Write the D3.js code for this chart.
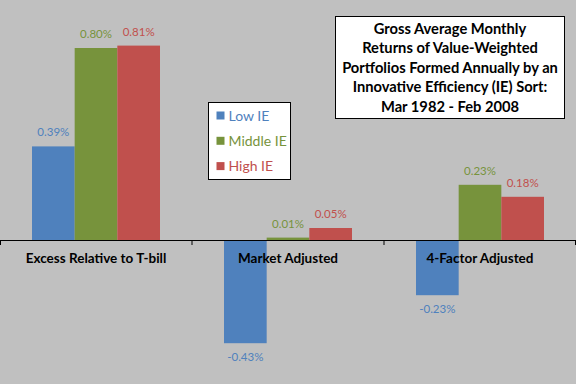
<!DOCTYPE html>
<html>
<head>
<meta charset="utf-8">
<script src="https://cdn.jsdelivr.net/npm/d3@7"></script>
<style>
  body { margin: 0; background: #c0c0c0; }
  svg { display: block; font-family: Lato, "Open Sans", sans-serif; }
</style>
</head>
<body>
<script>
var categories = ["Excess Relative to T-bill", "Market Adjusted", "4-Factor Adjusted"],
	series = ["Low IE", "Middle IE", "High IE"],
	lowIE = [0.39, -0.43, -0.23],
	middleIE = [0.80, 0.01, 0.23],
	highIE = [0.81, 0.05, 0.18],
	colors = ["#4f81bd", "#77933c", "#c0504d"],
	titleLines = ["Gross Average Monthly", "Returns of Value-Weighted",
		"Portfolios Formed Annually by an", "Innovative Efficiency (IE) Sort:",
		"Mar 1982 - Feb 2008"];

var width = 576, height = 384;
var values = [lowIE, middleIE, highIE];

var svg = d3.select('body').append('svg')
	.attr('width', width)
	.attr('height', height);

svg.append('rect')
	.attr('width', width).attr('height', height)
	.attr('fill', '#c0c0c0');

// scales
var x0 = d3.scaleBand()
	.domain(categories)
	.range([0, width]);

var x1 = d3.scaleBand()
	.domain(series)
	.range([0, x0.bandwidth()])
	.paddingOuter(0.75);

var y = d3.scaleLinear()
	.domain([-0.5, 1])
	.range([360, 0]);

// bars
var groups = svg.selectAll('g.cat')
	.data(categories)
	.enter().append('g')
	.attr('class', 'cat')
	.attr('transform', function(d) { return 'translate(' + x0(d) + ',0)'; });

series.forEach(function(s, si) {
	groups.append('rect')
		.attr('x', x1(s))
		.attr('width', x1.bandwidth())
		.attr('y', function(d, i) { return y(Math.max(0, values[si][i])); })
		.attr('height', function(d, i) { return Math.abs(y(values[si][i]) - y(0)); })
		.attr('fill', colors[si]);

	groups.append('text')
		.attr('x', x1(s) + x1.bandwidth() / 2)
		.attr('y', function(d, i) {
			var v = values[si][i];
			return v >= 0 ? y(v) - 10 : y(v) + 18;
		})
		.attr('text-anchor', 'middle')
		.attr('font-size', 11.5)
		.attr('fill', colors[si])
		.text(function(d, i) { return values[si][i].toFixed(2) + '%'; });
});

// x axis at zero
var xAxis = d3.axisBottom(x0)
	.tickSize(0)
	.tickFormat('');

var axisG = svg.append('g')
	.attr('transform', 'translate(0,' + y(0) + ')')
	.call(xAxis);
axisG.select('.domain').attr('stroke', '#000').attr('stroke-width', 1.2);

// category separators
axisG.selectAll('line.sep')
	.data(categories.slice(1).concat(['end']))
	.enter().append('line')
	.attr('class', 'sep')
	.attr('x1', function(d, i) { return i < 2 ? x0(categories[i + 1]) : width - 0.5; })
	.attr('x2', function(d, i) { return i < 2 ? x0(categories[i + 1]) : width - 0.5; })
	.attr('y1', 0).attr('y2', 5)
	.attr('stroke', '#000');
axisG.append('line')
	.attr('x1', 0.5).attr('x2', 0.5).attr('y1', 0).attr('y2', 5)
	.attr('stroke', '#000');

svg.selectAll('text.cat')
	.data(categories)
	.enter().append('text')
	.attr('class', 'cat')
	.attr('x', function(d) { return x0(d) + x0.bandwidth() / 2; })
	.attr('y', y(0) + 23)
	.attr('text-anchor', 'middle')
	.attr('font-size', 13.5)
	.attr('font-weight', 'bold')
	.attr('fill', '#000')
	.text(function(d) { return d; });

// legend
var legend = svg.append('g').attr('transform', 'translate(208.5,102.5)');
legend.append('rect')
	.attr('width', 82).attr('height', 77)
	.attr('fill', '#fff').attr('stroke', '#000');
series.forEach(function(s, i) {
	legend.append('rect')
		.attr('x', 8).attr('y', 9 + i * 25.3)
		.attr('width', 8).attr('height', 8)
		.attr('fill', colors[i]);
	legend.append('text')
		.attr('x', 20).attr('y', 18 + i * 25.3)
		.attr('font-size', 14)
		.attr('fill', colors[i])
		.text(s);
});

// title box
var title = svg.append('g').attr('transform', 'translate(335.5,16.5)');
title.append('rect')
	.attr('width', 229).attr('height', 102)
	.attr('fill', '#fff').attr('stroke', '#000');
title.selectAll('text')
	.data(titleLines)
	.enter().append('text')
	.attr('x', 114.5)
	.attr('y', function(d, i) { return 17.5 + i * 19.4; })
	.attr('text-anchor', 'middle')
	.attr('font-size', 14.7)
	.attr('font-weight', 'bold')
	.attr('fill', '#000')
	.text(function(d) { return d; });
</script>
</body>
</html>
